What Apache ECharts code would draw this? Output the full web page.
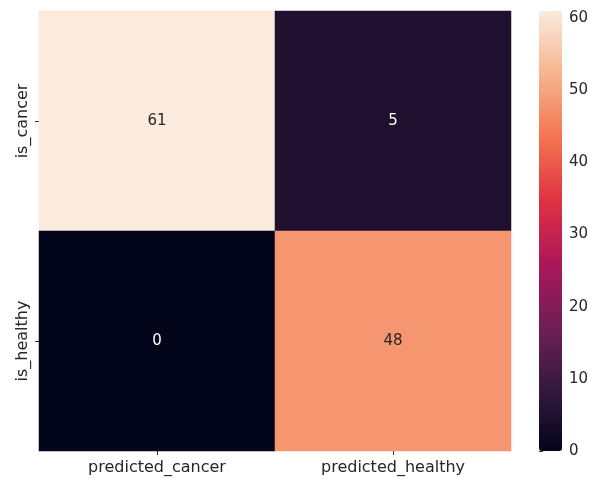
<!DOCTYPE html>
<html>
<head>
<meta charset="utf-8">
<script src="https://cdn.jsdelivr.net/npm/echarts@6/dist/echarts.min.js"></script>
<style>
  html, body { margin: 0; padding: 0; background: #fff; }
  #chart { width: 597px; height: 479px; }
</style>
</head>
<body>
<div id="chart"></div>
<script>
// Confusion matrix: rows are actual classes, columns are predictions
const predictedLabels = ['predicted_cancer', 'predicted_healthy'];
const actualLabels = ['is_cancer', 'is_healthy'];
const isCancerRow = [61, 5];
const isHealthyRow = [0, 48];
const colorbarTicks = [0, 10, 20, 30, 40, 50, 60];

// "rocket" colormap stops, evenly spaced from 0 to 1
const rocket = ['#03051a', '#35193e', '#701f57', '#ad1759', '#e13342', '#f37651', '#f6b48f', '#faebdd'];

const rows = [isCancerRow, isHealthyRow];
const cells = [];
rows.forEach((row, r) => row.forEach((v, c) => cells.push([c, r, v])));
const vmin = Math.min(...cells.map(d => d[2]));
const vmax = Math.max(...cells.map(d => d[2]));

const font = 'DejaVu Sans';
const chart = echarts.init(document.getElementById('chart'), null, { renderer: 'canvas' });
chart.setOption({
  animation: false,
  backgroundColor: '#fff',
  grid: [
    { left: 39, top: 11, width: 472, height: 440 },
    { left: 539, top: 11, width: 23, height: 440 }
  ],
  xAxis: [
    {
      type: 'category', gridIndex: 0, data: predictedLabels,
      axisLine: { show: false },
      axisTick: { show: true, alignWithLabel: true, length: 4, lineStyle: { color: '#333' } },
      axisLabel: { fontFamily: font, fontSize: 16, color: '#262626', margin: 9 },
      splitLine: { show: false }
    },
    { type: 'value', gridIndex: 1, show: false, min: 0, max: 1 }
  ],
  yAxis: [
    {
      type: 'category', gridIndex: 0, data: actualLabels, inverse: true,
      axisLine: { show: false },
      axisTick: { show: true, alignWithLabel: true, length: 4, lineStyle: { color: '#333' } },
      axisLabel: { fontFamily: font, fontSize: 16, color: '#262626', rotate: 90, margin: 8 },
      splitLine: { show: false }
    },
    {
      // colorbar scale
      type: 'value', gridIndex: 1, position: 'right', min: 0, max: vmax, interval: 10,
      axisLine: { show: false },
      axisTick: { show: true, length: 4, customValues: colorbarTicks, lineStyle: { color: '#333' } },
      axisLabel: {
        fontFamily: font, fontSize: 15, color: '#262626', margin: 7,
        customValues: colorbarTicks
      },
      splitLine: { show: false }
    }
  ],
  visualMap: {
    type: 'continuous',
    seriesIndex: 0,
    min: vmin, max: vmax,
    calculable: false,
    hoverLink: false,
    left: 539, top: 11, padding: 0,
    itemWidth: 23, itemHeight: 440,
    inRange: { color: rocket }
  },
  series: [{
    type: 'heatmap',
    xAxisIndex: 0, yAxisIndex: 0,
    data: cells.map(d => ({
      value: d,
      // annotation colour follows cell brightness, light text on dark cells
      label: { color: (d[2] - vmin) / (vmax - vmin) < 0.6 ? '#ffffff' : '#262626' }
    })),
    label: {
      show: true, fontFamily: font, fontSize: 15,
      formatter: p => String(p.value[2])
    },
    emphasis: { disabled: true }
  }]
});
</script>
</body>
</html>
